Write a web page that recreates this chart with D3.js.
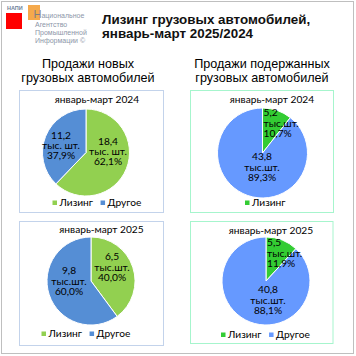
<!DOCTYPE html>
<html>
<head>
<meta charset="utf-8">
<script src="https://cdn.jsdelivr.net/npm/d3@7"></script>
<style>
  html, body { margin: 0; padding: 0; background: #fff; }
  svg { display: block; }
</style>
</head>
<body>
<svg id="chart" width="356" height="356"></svg>
<script>
// ---------------- DATA ----------------
const categories = ["Лизинг", "Другое"];
const periods = ["январь-март 2024", "январь-март 2025"];

const newTrucks2024 = [18.4, 11.2];   // тыс. шт.
const newTrucks2025 = [6.5, 9.8];
const usedTrucks2024 = [5.2, 43.8];
const usedTrucks2025 = [5.5, 40.8];

const newShare2024 = [62.1, 37.9];    // %
const newShare2025 = [40.0, 60.0];
const usedShare2024 = [10.7, 89.3];
const usedShare2025 = [11.9, 88.1];

const titleLines = ["Лизинг грузовых автомобилей,", "январь-март 2025/2024"];
const subtitleLines = [["Продажи новых", "грузовых автомобилей"], ["Продажи подержанных", "грузовых автомобилей"]];
const unitLabels = ["тыс. шт.", "тыс.шт."];

// ---------------- LAYOUT / STYLE ----------------
const svg = d3.select("#chart");
const fmt = v => d3.format(".1f")(v).replace(".", ",");

const styles = {
  newColors: ["#92D050", "#558ED5"],
  usedColors: ["#33CC33", "#6699FF"],
  newBorder: "#C3D3EB",
  usedBorder: "#A6F5CD"
};

const panels = [
  { values: newTrucks2024, shares: newShare2024, period: periods[0], unit: unitLabels[0],
    box: [19.5, 90.5, 144, 122], border: styles.newBorder, colors: styles.newColors,
    cx: 86, cy: 152.5, r: 43.5, titleX: 97, titleY: 103,
    labels: [{dx: 22, dy: -1, anchor: "middle"}, {dx: -25, dy: -7, anchor: "middle"}],
    legendX: 52.5, legendY: 203, legendItems: 2 },
  { values: usedTrucks2024, shares: usedShare2024, period: periods[0], unit: unitLabels[1],
    box: [190.5, 90.5, 143, 122], border: styles.usedBorder, colors: styles.usedColors,
    cx: 262.5, cy: 153, r: 45, titleX: 272, titleY: 103,
    labels: [{dx: 1, dy: -30, anchor: "start"}, {dx: -0.5, dy: 14, anchor: "middle"}],
    legendX: 245, legendY: 203, legendItems: 1 },
  { values: newTrucks2025, shares: newShare2025, period: periods[1], unit: unitLabels[1],
    box: [19.5, 221.5, 144, 124], border: styles.newBorder, colors: styles.newColors,
    cx: 91, cy: 281, r: 44, titleX: 101.5, titleY: 233,
    labels: [{dx: 21, dy: -14, anchor: "middle"}, {dx: -22, dy: 0, anchor: "middle"}],
    legendX: 41.5, legendY: 334, legendItems: 2 },
  { values: usedTrucks2025, shares: usedShare2025, period: periods[1], unit: unitLabels[1],
    box: [190.5, 221.5, 142.5, 122], border: styles.usedBorder, colors: styles.usedColors,
    cx: 266, cy: 281, r: 44, titleX: 271, titleY: 234,
    labels: [{dx: 1, dy: -28, anchor: "start"}, {dx: 2, dy: 19, anchor: "middle"}],
    legendX: 221, legendY: 335, legendItems: 2 }
];

// Outer frame
svg.append("rect").attr("x", 1.5).attr("y", 1.5).attr("width", 352).attr("height", 352)
  .attr("fill", "#fff").attr("stroke", "#BFBFBF").attr("stroke-width", 1);

// Logo
const logo = svg.append("g");
logo.append("text").attr("x", 7).attr("y", 10).text("НАПИ")
  .attr("font-family", "Liberation Sans, Arial, sans-serif").attr("font-size", 5.5)
  .attr("font-weight", "bold").attr("fill", "#6F7F9A");
logo.append("rect").attr("x", 6).attr("y", 13).attr("width", 16).attr("height", 16).attr("fill", "#FF0000");
logo.append("rect").attr("x", 28).attr("y", 5).attr("width", 12).attr("height", 15)
  .attr("fill", "#F39A2B").attr("opacity", 0.85);
const logoLines = [["Национальное", 33.5, 18.3], ["Агентство", 35, 26.5], ["Промышленной", 35, 34.5], ["Информации ©", 35, 42.5]];
const logoText = logo.append("text")
  .attr("font-family", "Liberation Sans Narrow, Liberation Sans, Arial, sans-serif")
  .attr("font-size", 7).attr("fill", "#8C96A8");
logoLines.forEach((d, i) => {
  if (i === 0) {
    logoText.append("tspan").attr("x", d[1]).attr("y", d[2]).attr("font-size", 11).attr("fill", "#7F7F7F").text(d[0][0]);
    logoText.append("tspan").text(d[0].slice(1));
  } else {
    logoText.append("tspan").attr("x", d[1]).attr("y", d[2]).text(d[0]);
  }
});

// Main title
const title = svg.append("text")
  .attr("font-family", "Liberation Sans, Arial, sans-serif").attr("font-size", 13.4)
  .attr("font-weight", "bold").attr("fill", "#111");
titleLines.forEach((d, i) => title.append("tspan").attr("x", 102).attr("y", 23.7 + i * 13.8).text(d));

// Subtitles
const subX = [88, 262];
subtitleLines.forEach((lines, si) => {
  const t = svg.append("text").attr("text-anchor", "middle")
    .attr("font-family", "Liberation Sans, Arial, sans-serif").attr("font-size", 12.6).attr("fill", "#000");
  lines.forEach((d, i) => t.append("tspan").attr("x", subX[si]).attr("y", 68.3 + i * 13.5).text(d));
});

const pie = d3.pie().sort(null).value(d => d).startAngle(0).endAngle(2 * Math.PI);
const labelFont = "Lato, Carlito, Calibri, sans-serif";

panels.forEach(p => {
  const g = svg.append("g");
  g.append("rect").attr("x", p.box[0]).attr("y", p.box[1]).attr("width", p.box[2]).attr("height", p.box[3])
    .attr("fill", "#fff").attr("stroke", p.border).attr("stroke-width", 1);

  g.append("text").attr("x", p.titleX).attr("y", p.titleY).attr("text-anchor", "middle")
    .text(p.period).attr("font-family", labelFont).attr("font-size", 10.2).attr("fill", "#000");

  const color = d3.scaleOrdinal().domain(categories).range(p.colors);
  const arc = d3.arc().innerRadius(0).outerRadius(p.r);
  const arcs = pie(p.values);
  const pg = g.append("g").attr("transform", `translate(${p.cx},${p.cy})`);
  pg.selectAll("path").data(arcs).join("path")
    .attr("d", arc).attr("fill", (d, i) => color(categories[i]))
    .attr("stroke", "#fff").attr("stroke-width", 1);

  arcs.forEach((a, i) => {
    const L = p.labels[i];
    const lines = [fmt(p.values[i]), p.unit, fmt(p.shares[i]) + "%"];
    const t = pg.append("text").attr("text-anchor", L.anchor)
      .attr("font-family", labelFont).attr("font-size", 10.2).attr("fill", "#000");
    lines.forEach((d, k) => t.append("tspan").attr("x", L.dx).attr("y", L.dy + 3.5 + (k - 1) * 10.3).text(d));
  });

  // legend
  const items = categories.slice(0, p.legendItems);
  let x = p.legendX;
  const lg = g.append("g");
  items.forEach((c, i) => {
    lg.append("rect").attr("x", x).attr("y", p.legendY - 2.5).attr("width", 4.5).attr("height", 4.5)
      .attr("fill", color(c));
    const t = lg.append("text").attr("x", x + 7).attr("y", p.legendY + 3.3).text(c)
      .attr("font-family", labelFont).attr("font-size", 10.2).attr("fill", "#000");
    x += 7 + t.node().getComputedTextLength() + 7.5;
  });
});
</script>
</body>
</html>
